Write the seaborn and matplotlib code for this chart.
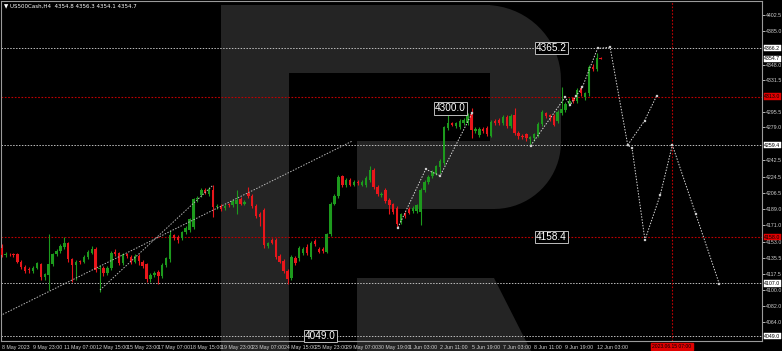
import matplotlib
matplotlib.use("Agg")
import numpy as np
import pandas as pd
import matplotlib.pyplot as plt
import seaborn as sns
from matplotlib.patches import Polygon
from matplotlib.transforms import Affine2D, blended_transform_factory

# ---------------- data ----------------
bar_open = [4146, 4138.5, 4139.5, 4139, 4139, 4131, 4125, 4122.5, 4121, 4124.5,
            4128, 4113.5, 4116, 4128, 4139, 4143, 4147, 4151, 4133.5, 4127,
            4131.5, 4131, 4136, 4141, 4144.5, 4123, 4124, 4118, 4124, 4142,
            4140, 4129, 4139, 4136, 4131, 4137.5, 4131, 4128, 4111.5, 4116,
            4120, 4115, 4127, 4133.5, 4160, 4158, 4157.5, 4164, 4166, 4169,
            4200, 4204, 4210, 4205, 4210.5, 4191, 4192, 4190, 4194.5, 4193,
            4195, 4200, 4195, 4207, 4203, 4192, 4184, 4188, 4148, 4155,
            4155, 4137, 4132, 4121, 4113, 4134.5, 4134.5, 4140, 4147.5, 4136.5,
            4154, 4144.5, 4145, 4142, 4161, 4195, 4203, 4225, 4215, 4221,
            4216, 4219, 4216, 4215.5, 4221, 4232, 4213.5, 4204, 4210, 4199,
            4194, 4190, 4175, 4184, 4189, 4187, 4187, 4186, 4210, 4219,
            4225, 4228, 4235, 4240, 4278, 4283.5, 4280, 4279, 4284, 4284,
            4293.5, 4275, 4270.5, 4277, 4278, 4270, 4286, 4287, 4284, 4290.5,
            4280, 4292.5, 4273, 4270, 4271.5, 4266, 4267, 4270.5, 4283, 4294.5,
            4292.5, 4292, 4286.5, 4295, 4298, 4305, 4311, 4308.5, 4322, 4313,
            4316.5, 4346, 4343, 4354.8]
bar_high = [4150, 4142, 4141, 4141, 4141, 4133, 4127, 4125, 4126, 4131,
            4130, 4119, 4161, 4141, 4145, 4150, 4158, 4153, 4135, 4133,
            4133, 4138, 4144, 4148, 4147, 4127, 4126, 4126, 4143, 4145,
            4142, 4141, 4141, 4138, 4139, 4139, 4133, 4130, 4118, 4121,
            4122, 4129, 4136, 4166, 4162, 4160, 4165, 4170, 4179, 4201,
            4203, 4212, 4212, 4213, 4215, 4195, 4194, 4195, 4196, 4200,
            4210, 4202, 4199, 4213.5, 4205, 4194, 4186, 4190, 4153, 4157,
            4157, 4139, 4134, 4123, 4138, 4137, 4148, 4147, 4150, 4154,
            4156, 4147, 4147, 4163, 4197, 4205, 4226, 4227, 4223, 4223,
            4221, 4221, 4221, 4225, 4236, 4234, 4216, 4208, 4212, 4201,
            4196, 4192, 4185, 4186, 4191, 4192, 4195, 4212, 4221, 4226,
            4232, 4238, 4244, 4281, 4292.5, 4285, 4285, 4288, 4289, 4295,
            4300, 4279, 4279, 4279, 4280, 4287, 4288, 4289, 4293, 4293,
            4294, 4300, 4275, 4272, 4273, 4270, 4273, 4285, 4298, 4296,
            4294, 4294, 4298, 4324, 4307, 4311, 4313, 4322, 4324, 4318,
            4348, 4349, 4361, 4356.3]
bar_low = [4136, 4136, 4137, 4136, 4129, 4123, 4119, 4119, 4119, 4123,
           4111, 4111, 4100, 4126, 4137, 4141, 4145, 4131, 4109, 4111,
           4128, 4129, 4134, 4139, 4120, 4098, 4115, 4116, 4122, 4137,
           4127, 4127, 4135, 4128, 4129, 4127, 4124, 4108, 4109, 4114,
           4106, 4113, 4125, 4131, 4155, 4151, 4155, 4162, 4164, 4167,
           4197, 4202, 4205, 4203, 4180, 4189, 4187, 4188, 4191, 4191,
           4183, 4193, 4193, 4201, 4190, 4179, 4170, 4146, 4146, 4150,
           4134, 4129, 4118, 4106, 4111, 4127, 4132, 4138, 4138, 4134,
           4148, 4140, 4141, 4140, 4159, 4193, 4201, 4213, 4213, 4214,
           4214, 4216, 4214, 4213, 4219, 4211, 4203, 4202, 4196, 4183,
           4183, 4168, 4172, 4179, 4183, 4185, 4185, 4171, 4208, 4217,
           4223, 4226, 4229, 4238, 4276, 4280, 4278, 4277, 4282, 4282,
           4267, 4273, 4268, 4273, 4270, 4268, 4282, 4282, 4282, 4278,
           4278, 4271, 4266, 4266, 4264, 4259.5, 4264, 4268, 4281, 4289,
           4286, 4280, 4284, 4293, 4296, 4303, 4306, 4306, 4314, 4309,
           4314, 4341, 4341, 4354.1]
bar_close = [4138, 4139.5, 4139, 4138, 4131, 4125, 4121, 4121.5, 4124.5, 4129,
             4114, 4117, 4128, 4139, 4143, 4148.5, 4151, 4133.5, 4127, 4131,
             4130.5, 4136, 4142, 4144.5, 4122, 4124, 4118, 4124, 4141, 4139,
             4129, 4139, 4137, 4130.5, 4137, 4131.5, 4126, 4111.5, 4116, 4119,
             4115, 4127, 4134.5, 4160, 4157.5, 4155, 4164, 4168.5, 4177.5, 4199.5,
             4201, 4210, 4207, 4211, 4191, 4192.5, 4189, 4192.5, 4193, 4198,
             4199, 4195, 4197, 4203, 4192, 4181, 4180, 4149, 4151, 4152,
             4136, 4131, 4121, 4112, 4136, 4129, 4145.5, 4145, 4140, 4151.5,
             4150, 4142, 4143, 4161.5, 4195, 4203, 4224, 4215.5, 4221, 4216,
             4219, 4218, 4219, 4223, 4232.5, 4213.5, 4206, 4206, 4198, 4193,
             4185.5, 4173, 4183.5, 4181, 4185, 4190, 4193, 4210, 4219, 4224,
             4230, 4236, 4242, 4279.5, 4283.5, 4282, 4283.5, 4286, 4287, 4293.5,
             4276, 4277, 4277, 4275, 4271.5, 4285, 4284, 4284, 4290.5, 4280,
             4291, 4273, 4269, 4268.5, 4267, 4268.5, 4271.5, 4283, 4296, 4291.5,
             4290, 4282, 4296, 4299, 4305, 4308.5, 4308.5, 4320, 4316.5, 4317,
             4346, 4343, 4355, 4354.7]

time_labels = ["8 May 2023", "9 May 23:00", "11 May 07:00", "12 May 15:00",
               "15 May 23:00", "17 May 07:00", "18 May 15:00", "19 May 23:00",
               "23 May 07:00", "24 May 15:00", "25 May 23:00", "29 May 07:00",
               "30 May 19:00", "1 Jun 03:00", "2 Jun 11:00", "5 Jun 19:00",
               "7 Jun 03:00", "8 Jun 11:00", "9 Jun 19:00", "12 Jun 03:00"]
price_ticks = [4402.5, 4385.0, 4348.0, 4331.5, 4295.5, 4279.0, 4242.5, 4224.5,
               4206.5, 4189.0, 4171.0, 4153.0, 4135.5, 4117.5, 4100.0, 4082.0, 4064.0]
white_levels = [4366.2, 4259.4, 4107.0, 4049.0]
red_levels = [4313.0, 4158.0]
current_price = 4354.7

# completed wave (bar index, price)
wave_bar = [101.2, 108.3, 112.0, 120.2]
wave_price = [4168.4, 4232.8, 4225.7, 4295.0]
# forecast path (bar index, price)
fc_bar = [135.1, 143.9, 145.2, 146.7, 148.3, 152.2,
          155.4, 159.9, 161.0, 164.3, 168.2, 171.3, 177.3, 183.3]
fc_price = [4258.8, 4312.1, 4303.6, 4313.6, 4323.1, 4366.1,
            4367.2, 4259.5, 4256.2, 4154.8, 4204.4, 4259.5, 4183.1, 4106.3]
branch_bar = [159.9, 164.2, 167.3]
branch_price = [4259.5, 4286.3, 4313.9]
trend1_bar = [-0.4, 89.6]
trend1_price = [4071.4, 4264.0]
trend2_bar = [25.1, 54.0]
trend2_price = [4099.7, 4215.4]
target_text = ["4365.2", "4300.0", "4158.4", "4049.0"]
target_price = [4366.2, 4300.0, 4158.0, 4049.0]
vline_bar = 171.2
vline_text = "2023.06.15 07:00"
header = "US500Cash,H4  4354.8 4356.3 4354.1 4354.7"

# ---------------- style ----------------
sns.set_theme(style="dark", rc={
    "figure.facecolor": "black", "axes.facecolor": "none",
    "axes.edgecolor": "#9a9a9a", "axes.linewidth": 0.8,
    "xtick.color": "#cfcfcf", "ytick.color": "#cfcfcf",
    "axes.grid": False})
NARROW = ["Liberation Sans Narrow", "Liberation Sans", "DejaVu Sans"]
plt.rcParams["font.family"] = NARROW

W, H = 782, 351
fig = plt.figure(figsize=(W / 100, H / 100), dpi=100)
ax = fig.add_axes([1 / W, 10 / H, 761 / W, 340 / H])
ax.set_facecolor("none")

# R watermark in pixel coords (y down)
pix = Affine2D().scale(1 / W, -1 / H).translate(0, 1) + fig.transFigure
grey = "#242424"
def add_poly(pts):
    p = Polygon(pts, closed=True, facecolor=grey, edgecolor="none",
                transform=pix, zorder=-5)
    fig.patches.append(p)
add_poly([(221, 5), (289, 5), (289, 351), (221, 351)])
add_poly([(221, 5), (490, 5), (490, 73), (221, 73)])
t1 = np.linspace(np.pi / 2, 0, 20)
t2 = np.linspace(0, np.pi / 2, 20)
right = [(490, 5)] + [(485 + 76 * np.cos(t), 80 - 75 * np.sin(t)) for t in t1] \
        + [(561, 142)] + [(494 + 67 * np.cos(t), 142 + 67 * np.sin(t)) for t in t2] \
        + [(490, 209)]
add_poly(right)
add_poly([(357, 141), (495, 141), (495, 209), (357, 209)])
add_poly([(357, 278), (494, 278), (531, 351), (357, 351)])

# candles
idx = np.arange(len(bar_open))
o = np.array(bar_open); c = np.array(bar_close)
hi = np.array(bar_high); lo = np.array(bar_low)
up = c >= o
green, red = "#1d9a1d", "#e8161b"
cols = np.where(up, green, red)
ax.vlines(idx, lo, hi, colors=cols, linewidth=0.8, zorder=3)
body = np.maximum(np.abs(c - o), 0.9)
ax.bar(idx, body, bottom=np.minimum(o, c), width=0.62, color=cols,
       linewidth=0, zorder=4)

# horizontal levels
dot = (0, (1.5, 1.5))
for lv in white_levels:
    ax.axhline(lv, color="#bdbdbd", lw=0.7, ls=dot, zorder=2)
for lv in red_levels:
    ax.axhline(lv, color="#c00000", lw=0.8, ls=dot, zorder=2)
ax.axvline(vline_bar, color="#c00000", lw=0.8, ls=dot, zorder=2)

# trend lines and forecast with seaborn
def seg(xs, ys, color, z):
    d = pd.DataFrame({"bar": xs, "price": ys})
    sns.lineplot(data=d, x="bar", y="price", ax=ax, color=color, lw=0.7,
                 linestyle=dot, sort=False, estimator=None, zorder=z)
    return d
seg(trend1_bar, trend1_price, "#b8b8b8", 5)
seg(trend2_bar, trend2_price, "#b8b8b8", 5)
wv = seg(wave_bar, wave_price, "#d8d8d8", 6)
fc = seg(fc_bar, fc_price, "#d8d8d8", 6)
br = seg(branch_bar, branch_price, "#d8d8d8", 6)
pts = pd.concat([wv, fc, br])
sns.scatterplot(data=pts, x="bar", y="price", ax=ax, marker="s", s=3,
                color="white", edgecolor="#777777", linewidth=0.3, zorder=7)

ax.set_xlim(-0.18, 194.2)
ax.set_ylim(4043.5, 4418.3)

# axes ticks
ax.yaxis.tick_right()
ax.set_yticks(price_ticks)
ax.set_yticklabels([f"{v:.1f}" for v in price_ticks])
ax.tick_params(axis="y", length=2.0, width=0.6, labelsize=3.8, pad=0.6,
               colors="#cfcfcf")
ax.set_xticks(np.arange(0, len(time_labels) * 8, 8))
ax.set_xticklabels(time_labels, ha="left")
ax.tick_params(axis="x", length=2.5, width=0.6, labelsize=3.8, pad=0.2,
               colors="#cfcfcf")
ax.set_xlabel(""); ax.set_ylabel("")
for s in ax.spines.values():
    s.set_color("#9a9a9a")

# right-axis price boxes
bt = blended_transform_factory(ax.transAxes, ax.transData)
for lv in white_levels + [current_price]:
    ax.text(1.003, lv, f"{lv:.1f}", transform=bt, fontsize=3.8, color="black",
            va="center", ha="left", zorder=10, clip_on=False,
            bbox=dict(boxstyle="square,pad=0.12", fc="white", ec="white", lw=0.3))
for lv in red_levels:
    ax.text(1.003, lv, f"{lv:.1f}", transform=bt, fontsize=3.8, color="black",
            va="center", ha="left", zorder=10, clip_on=False,
            bbox=dict(boxstyle="square,pad=0.12", fc="#e00000", ec="#e00000", lw=0.3))

# target labels on chart
tgt_bar = [136.4, 110.6, 136.4, 77.4]
for txt, pr, xb in zip(target_text, target_price, tgt_bar):
    ax.text(xb, pr, txt, fontsize=7.2, color="white", va="center", ha="left",
            zorder=11,
            bbox=dict(boxstyle="square,pad=0.12", fc="black", ec="#bdbdbd", lw=0.7))

# date box under vertical line
ax.text(vline_bar, -0.008, vline_text,
        transform=blended_transform_factory(ax.transData, ax.transAxes),
        fontsize=3.6, color="black", ha="center", va="top", clip_on=False, zorder=10,
        bbox=dict(boxstyle="square,pad=0.2", fc="#e00000", ec="#e00000"))

# header
fig.text(4 / W, 1 - 5.5 / H, "\u25BC " + header, fontsize=4.0, color="white",
         va="center", ha="left", family=["DejaVu Sans"])

fig.savefig("out.png", dpi=100, facecolor="black")
